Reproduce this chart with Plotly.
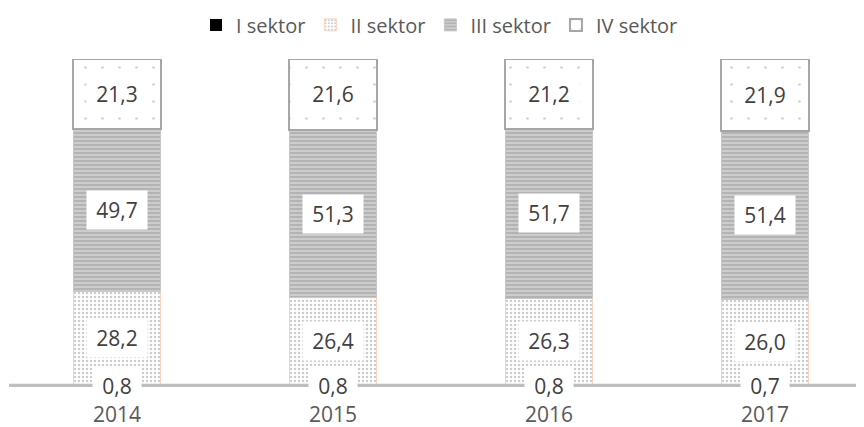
import plotly.graph_objects as go

years = ["2014", "2015", "2016", "2017"]
sector_names = ["I sektor", "II sektor", "III sektor", "IV sektor"]
s1 = [0.8, 0.8, 0.8, 0.7]
s2 = [28.2, 26.4, 26.3, 26.0]
s3 = [49.7, 51.3, 51.7, 51.4]
s4 = [21.3, 21.6, 21.2, 21.9]

series = [s1, s2, s3, s4]
fills = ["#000000", "white", "#cccccc", "white"]
pat_shapes = ["", ".", "-", "."]
pat_fg = ["#000000", "#9a9a9a", "#9a9a9a", "#a6a6a6"]
pat_sizes = [8, 4, 4, 17]
pat_solidity = [0.3, 0.3, 0.5, 0.02]
lines = ["#000000", "#f6d5c0", "#c8c8c8", "#a6a6a6"]
line_w = [0, 1, 1, 2]

FONT = "Open Sans"

fig = go.Figure()
for i, (name, vals) in enumerate(zip(sector_names, series)):
    fig.add_trace(go.Bar(
        x=years, y=vals, name=name,
        marker=dict(
            color=fills[i],
            line=dict(color=lines[i], width=line_w[i]),
            pattern=dict(shape=pat_shapes[i], fgcolor=pat_fg[i], bgcolor=fills[i],
                         size=pat_sizes[i], solidity=pat_solidity[i], fillmode="overlay"),
        ),
        hoverinfo="skip",
    ))

cum = [0.0] * len(years)
for k, vals in enumerate(series):
    for j, yr in enumerate(years):
        mid = cum[j] + vals[j] / 2.0
        txt = f"{vals[j]:.1f}".replace(".", ",")
        ndig = sum(c.isdigit() for c in txt)
        fig.add_annotation(
            x=j, y=mid, xref="x", yref="y",
            text=txt, showarrow=False, bgcolor="#ffffff",
            font=dict(family=FONT, size=21, color="#404040"),
            width=ndig * 12 + 14, borderpad=5,
        )
        cum[j] += vals[j]

# baseline axis line drawn over the thin first sector
fig.add_shape(type="line", xref="paper", x0=0, x1=1, yref="y",
              y0=max(s1) / 2, y1=max(s1) / 2,
              line=dict(color="#bfbfbf", width=4), layer="above")

fig.update_layout(
    barmode="stack",
    bargap=0.593,
    width=856, height=419,
    margin=dict(l=1, r=2, t=51, b=40, autoexpand=False),
    plot_bgcolor="white", paper_bgcolor="white",
    showlegend=True,
    legend=dict(orientation="h", x=0.5047, xanchor="center", y=1.104, yanchor="middle",
                font=dict(family=FONT, size=20, color="#595959"),
                traceorder="normal", itemwidth=30),
    xaxis=dict(type="category", range=[-0.5, 3.449], showline=False, zeroline=False,
               ticks="outside", ticklen=9, tickcolor="rgba(0,0,0,0)", showgrid=False,
               tickfont=dict(family=FONT, size=21, color="#595959")),
    yaxis=dict(range=[0, 100], showticklabels=False, showline=False, zeroline=False,
               showgrid=False, ticks=""),
)

fig.write_html("out.html")
